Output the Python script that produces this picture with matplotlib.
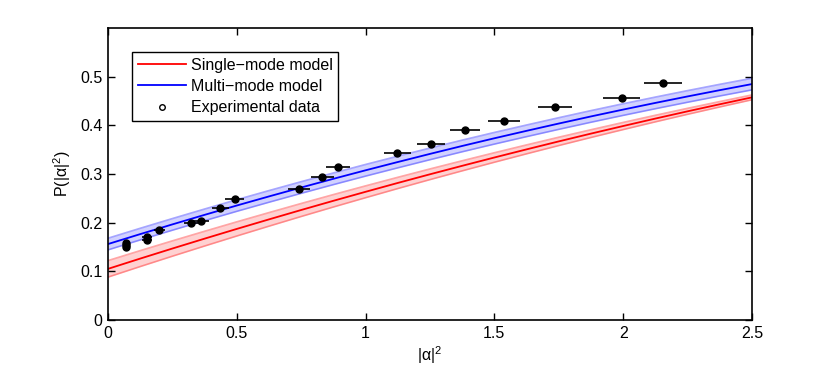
import matplotlib
matplotlib.use("Agg")
import matplotlib.pyplot as plt
import numpy as np

plt.rcParams['font.family'] = ['Liberation Sans', 'DejaVu Sans']
plt.rcParams['mathtext.fontset'] = 'custom'
plt.rcParams['mathtext.rm'] = 'Liberation Sans'
plt.rcParams['mathtext.it'] = 'Liberation Sans:italic'

# Model curves
model_x = [0.0, 0.125, 0.25, 0.375, 0.5, 0.625, 0.75, 0.875, 1.0, 1.125, 1.25,
           1.375, 1.5, 1.625, 1.75, 1.875, 2.0, 2.125, 2.25, 2.375, 2.5]
single_mode = [0.1050, 0.1261, 0.1468, 0.1671, 0.1871, 0.2067, 0.2260, 0.2449,
               0.2634, 0.2816, 0.2994, 0.3168, 0.3339, 0.3506, 0.3670, 0.3830,
               0.3986, 0.4139, 0.4288, 0.4433, 0.4575]
single_band = [0.0170, 0.0164, 0.0158, 0.0152, 0.0146, 0.0140, 0.0134, 0.0128,
               0.0122, 0.0116, 0.0110, 0.0104, 0.0098, 0.0092, 0.0086, 0.0080,
               0.0074, 0.0068, 0.0062, 0.0056, 0.0050]
multi_mode = [0.1560, 0.1764, 0.1964, 0.2160, 0.2352, 0.2539, 0.2722, 0.2901,
              0.3076, 0.3246, 0.3413, 0.3576, 0.3734, 0.3887, 0.4037, 0.4183,
              0.4324, 0.4461, 0.4594, 0.4723, 0.4848]
multi_band = [0.012] * 21

# Experimental data
exp_x = [0.071, 0.071, 0.071, 0.153, 0.153, 0.200, 0.323, 0.362, 0.437, 0.493,
         0.741, 0.832, 0.894, 1.123, 1.254, 1.386, 1.539, 1.735, 1.994, 2.155]
exp_y = [0.151, 0.155, 0.158, 0.165, 0.170, 0.185, 0.199, 0.204, 0.230, 0.248,
         0.269, 0.294, 0.314, 0.343, 0.361, 0.390, 0.408, 0.437, 0.457, 0.488]
exp_xerr = [0.013, 0.013, 0.013, 0.020, 0.020, 0.022, 0.028, 0.030, 0.033, 0.037,
            0.043, 0.045, 0.047, 0.053, 0.056, 0.059, 0.062, 0.066, 0.071, 0.074]

xticks = [0, 0.5, 1, 1.5, 2, 2.5]
xticklabels = ['0', '0.5', '1', '1.5', '2', '2.5']
yticks = [0, 0.1, 0.2, 0.3, 0.4, 0.5]
yticklabels = ['0', '0.1', '0.2', '0.3', '0.4', '0.5']

fig = plt.figure(figsize=(8.3, 3.75), dpi=100)
ax = fig.add_axes([0.130, 0.1467, 0.776, 0.7786])

red = '#ff0000'
blue = '#0000ff'

sm = np.array(single_mode); sb = np.array(single_band)
mm = np.array(multi_mode); mb = np.array(multi_band)

ax.fill_between(model_x, sm - sb, sm + sb, color=red, alpha=0.18, lw=0)
ax.plot(model_x, sm - sb, color=red, alpha=0.35, lw=1.2)
ax.plot(model_x, sm + sb, color=red, alpha=0.35, lw=1.2)
ax.fill_between(model_x, mm - mb, mm + mb, color=blue, alpha=0.18, lw=0)
ax.plot(model_x, mm - mb, color=blue, alpha=0.35, lw=1.2)
ax.plot(model_x, mm + mb, color=blue, alpha=0.35, lw=1.2)

l1, = ax.plot(model_x, single_mode, color=red, lw=1.3, label='Single\u2212mode model')
l2, = ax.plot(model_x, multi_mode, color=blue, lw=1.3, label='Multi\u2212mode model')

ax.errorbar(exp_x, exp_y, xerr=exp_xerr, fmt='o', color='black', ms=5,
            mfc='black', mec='black', elinewidth=1.2, capsize=0, zorder=5)
l3, = ax.plot([], [], 'o', mfc='none', mec='black', ms=4, mew=1.0,
              label='Experimental data')

ax.set_xlim(0, 2.5)
ax.set_ylim(0, 0.6)
ax.set_xticks(xticks)
ax.set_xticklabels(xticklabels)
ax.set_yticks(yticks)
ax.set_yticklabels(yticklabels)
ax.tick_params(direction='in', top=True, right=True, length=5, width=1,
               labelsize=11.5, pad=4)
for s in ax.spines.values():
    s.set_linewidth(1.2)

ax.set_xlabel('|α|$^{2}$', fontsize=11.5, labelpad=3)
ax.set_ylabel('P(|α|$^{2}$)', fontsize=11.5, labelpad=5)

leg = ax.legend(handles=[l1, l2, l3], loc='upper left',
                bbox_to_anchor=(0.038, 0.918), fontsize=11.5, frameon=True,
                fancybox=False, edgecolor='black', framealpha=1,
                handlelength=3.0, handletextpad=0.3, borderpad=0.35,
                labelspacing=0.4, borderaxespad=0)
leg.get_frame().set_linewidth(1.0)

fig.savefig('out.png', dpi=100)
